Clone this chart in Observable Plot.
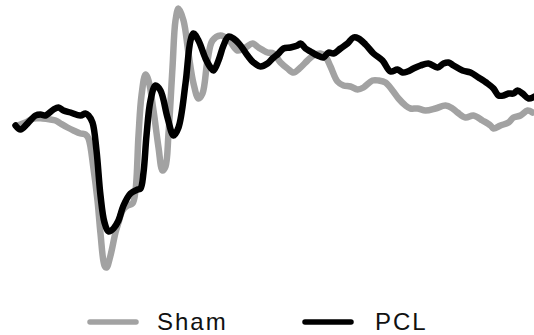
<!DOCTYPE html>
<html>
<head>
<meta charset="utf-8">
<script src="https://cdn.jsdelivr.net/npm/d3@7"></script>
<script src="https://cdn.jsdelivr.net/npm/@observablehq/plot@0.6"></script>
<style>
  html, body { margin: 0; padding: 0; background: #fff; }
  #wrap { position: relative; width: 534px; height: 335px; overflow: hidden; }
  #legend { position: absolute; left: 0; top: 290px; }
</style>
</head>
<body>
<div id="wrap"></div>
<script>
// Series names and colours
const seriesNames = ["Sham", "PCL"];
const seriesColors = ["#a2a2a2", "#000000"];

// Sham (gray): time positions and amplitude values
const shamT = [17,25,33,42,50,55,60,67,73,80,85,88,93,97,100,104,106,110,115,118,122,127,132,135,138,141,145,148,153,158,162,165,168,172,175,178,183,188,193,198,202,207,212,220,228,237,245,252,258,267,273,280,287,293,300,307,313,320,325,330,337,343,350,357,363,372,378,385,392,398,405,410,417,425,435,445,452,457,465,473,482,490,493,500,508,513,520,527,532];
const shamV = [0,3,7,7,6,5,2,-2,-5,-8,-9,-13,-43,-75,-108,-140,-142,-130,-107,-97,-85,-80,-78,-65,-10,30,51,45,15,-22,-45,-41,-8,58,105,117,105,72,42,27,32,65,85,90,86,75,78,82,78,73,72,63,57,53,58,65,70,72,69,59,44,40,39,36,38,45,45,43,35,27,20,17,17,15,17,20,17,13,8,10,5,0,-3,0,3,8,10,15,13];

// PCL (black): time positions and amplitude values
const pclT = [15,20,27,35,40,45,53,58,63,70,80,85,88,92,96,100,104,108,113,118,123,130,137,140,143,146,150,155,160,167,173,178,185,190,193,198,205,210,213,218,223,228,233,240,247,253,260,267,272,278,283,290,297,300,305,310,317,323,328,333,340,347,353,358,365,373,382,390,397,402,407,413,420,428,437,443,448,453,462,470,478,487,493,498,503,508,513,517,522,528,534];
const pclV = [0,-4,2,10,11,10,16,18,15,13,10,12,10,3,-25,-70,-97,-106,-103,-95,-80,-68,-64,-63,-47,-10,25,40,35,8,-10,-2,42,85,92,85,67,58,55,65,80,89,87,80,70,63,59,62,67,72,77,78,80,82,77,74,70,68,73,72,77,82,88,87,81,72,65,54,56,53,54,57,60,62,58,62,63,60,55,53,48,42,37,30,30,32,32,35,32,27,29];

const rows = [
  ...shamT.map((t, i) => ({t, v: shamV[i], s: seriesNames[0]})),
  ...pclT.map((t, i) => ({t, v: pclV[i], s: seriesNames[1]}))
];

const chart = Plot.plot({
  width: 534,
  height: 290,
  margin: 0,
  x: {domain: [0, 534], axis: null},
  y: {domain: [-165, 125], axis: null},
  color: {domain: seriesNames, range: seriesColors},
  marks: [
    Plot.line(rows, {x: "t", y: "v", z: "s", stroke: "s", strokeWidth: 6.5, curve: "catmull-rom"})
  ]
});
const wrap = document.getElementById("wrap");
wrap.appendChild(chart);

// Legend below the chart
const legend = d3.select(wrap).append("svg")
  .attr("id", "legend").attr("width", 534).attr("height", 45);
const legendX = [88, 303];
seriesNames.forEach((name, i) => {
  const g = legend.append("g").attr("transform", `translate(${legendX[i]},0)`);
  g.append("line").attr("x1", 2).attr("x2", 48).attr("y1", 32).attr("y2", 32)
    .attr("stroke", seriesColors[i]).attr("stroke-width", 5.5).attr("stroke-linecap", "round");
  g.append("text").attr("x", i === 0 ? 69 : 72).attr("y", 40)
    .attr("font-family", "Liberation Sans, Arial, sans-serif")
    .attr("font-size", 24).attr("letter-spacing", "2px").attr("fill", "#111")
    .text(name);
});
</script>
</body>
</html>
